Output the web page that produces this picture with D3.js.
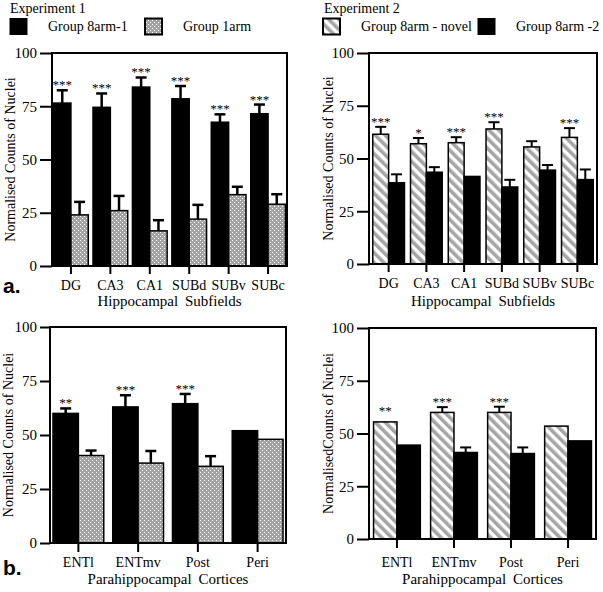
<!DOCTYPE html>
<html><head><meta charset="utf-8">
<script src="https://cdn.jsdelivr.net/npm/d3@7"></script>
<style>body{margin:0;background:#fff}svg{display:block}</style>
</head><body>
<script>
// ---------- data ----------
const hippoCats = ["DG","CA3","CA1","SUBd","SUBv","SUBc"];
const paraCats = ["ENTl","ENTmv","Post","Peri"];
const yTicks = [0,25,50,75,100];

// Experiment 1 - hippocampal subfields
const e1HipArm8 = [76.5,74.5,84,78.5,67.5,71.5];
const e1HipArm8Err = [6,6.5,4.5,6,3.7,4.3];
const e1HipArm1 = [24,26,16.5,22,33.5,29];
const e1HipArm1Err = [6.1,6.9,5,6.7,3.7,4.7];
const e1HipStars = ["***","***","***","***","***","***"];

// Experiment 2 - hippocampal subfields
const e2HipNovel = [61.5,57,57.5,64,55.5,60];
const e2HipNovelErr = [3.5,2.7,2.6,3.2,2.7,4.4];
const e2HipArm8 = [38.5,43.5,41.5,36.5,44.5,40];
const e2HipArm8Err = [4,2.4,0,3.4,2.4,4.8];
const e2HipStars = ["***","*","***","***","","***"];

// Experiment 1 - parahippocampal cortices
const e1ParArm8 = [60,63,64.5,52];
const e1ParArm8Err = [2.3,5.4,4.5,0];
const e1ParArm1 = [40.5,37,35.5,48];
const e1ParArm1Err = [2.3,5.6,4.7,0];
const e1ParStars = ["**","***","***",""];

// Experiment 2 - parahippocampal cortices
const e2ParNovel = [55.5,60,60,53.5];
const e2ParNovelErr = [0,2.5,2.7,0];
const e2ParArm8 = [44.5,41,40.5,46.5];
const e2ParArm8Err = [0,2.4,2.9,0];
const e2ParStars = ["**","***","***",""];

// ---------- svg ----------
const SERIF="Liberation Serif", SANS="Liberation Sans";
const W=603,H=592;
const svg=d3.select("body").append("svg").attr("width",W).attr("height",H);
svg.append("rect").attr("width",W).attr("height",H).attr("fill","#fff");
const defs=svg.append("defs");
const dots=defs.append("pattern").attr("id","dots").attr("patternUnits","userSpaceOnUse").attr("width",4).attr("height",4);
dots.append("rect").attr("width",4).attr("height",4).attr("fill","#a3a3a3");
dots.append("rect").attr("x",0).attr("y",0).attr("width",1).attr("height",1).attr("fill","#fff");
dots.append("rect").attr("x",2).attr("y",2).attr("width",1).attr("height",1).attr("fill","#fff");
const hatch=defs.append("pattern").attr("id","hatch").attr("patternUnits","userSpaceOnUse").attr("width",7).attr("height",7).attr("patternTransform","rotate(-45)");
hatch.append("rect").attr("width",7).attr("height",7).attr("fill","#fff");
hatch.append("rect").attr("width",3.6).attr("height",7).attr("fill","#a5a5a5");

const BLACK="#000", DOTS="url(#dots)", HATCH="url(#hatch)";

function txt(sel,size,fam){
  return sel.style("font-family",fam||SERIF).style("font-size",size+"px").style("fill","#000");
}

function panel(c){
  const g=svg.append("g");
  const x=d3.scaleBand().domain(c.cats).range([c.x0,c.x1]).paddingInner(c.padIn).paddingOuter(c.padOut);
  const y=d3.scaleLinear().domain([0,100]).range([c.yBot,c.yTop]);
  const bw=x.bandwidth()/2;
  const series=[{v:c.s1,e:c.e1,f:c.f1,o:0},{v:c.s2,e:c.e2,f:c.f2,o:1}];
  series.forEach(s=>{
    g.selectAll(null).data(c.cats).enter().append("rect")
      .attr("x",d=>x(d)+s.o*bw).attr("width",bw)
      .attr("y",(d,i)=>y(s.v[i])).attr("height",(d,i)=>c.yBot-y(s.v[i]))
      .attr("fill",s.f).attr("stroke","#000").attr("stroke-width",1.5);
  });
  series.forEach(s=>{
    c.cats.forEach((d,i)=>{
      if(!s.e[i]) return;
      const cx=x(d)+s.o*bw+bw/2, top=y(s.v[i]+s.e[i]);
      g.append("line").attr("x1",cx).attr("x2",cx).attr("y1",y(s.v[i])).attr("y2",top).attr("stroke","#000").attr("stroke-width",c.ew);
      g.append("line").attr("x1",cx-5.5).attr("x2",cx+5.5).attr("y1",top).attr("y2",top).attr("stroke","#000").attr("stroke-width",c.ew);
    });
  });
  // stars above first series
  c.cats.forEach((d,i)=>{
    if(!c.stars[i]) return;
    const cx=x(d)+bw/2;
    const yy=c.e1[i]? y(c.s1[i]+c.e1[i])-1 : y(c.s1[i])-7;
    txt(g.append("text").attr("x",cx).attr("y",yy).attr("text-anchor","middle"),13).text(c.stars[i]);
  });
  // frame
  g.append("rect").attr("x",c.x0).attr("y",c.yTop).attr("width",c.x1-c.x0).attr("height",c.yBot-c.yTop)
    .attr("fill","none").attr("stroke","#000").attr("stroke-width",2);
  // y axis
  const ya=g.append("g").attr("transform",`translate(${c.x0},0)`)
    .call(d3.axisLeft(y).tickValues(yTicks).tickSize(c.ytick).tickPadding(3));
  ya.select(".domain").remove();
  ya.selectAll("line").attr("stroke-width",2);
  txt(ya.selectAll("text"),15);
  // x axis
  const xa=g.append("g").attr("transform",`translate(0,${c.yBot})`)
    .call(d3.axisBottom(x).tickSize(c.xtick));
  xa.select(".domain").remove();
  xa.selectAll("line").attr("stroke-width",2);
  txt(xa.selectAll("text"),14).attr("y",c.lblOff).attr("dy",null);
  // titles
  txt(g.append("text").attr("x",(c.x0+c.x1)/2).attr("y",c.titleY).attr("text-anchor","middle"),15)
    .style("word-spacing","3px").text(c.xtitle);
  txt(g.append("text").attr("transform",`translate(${c.ylx},${(c.yTop+c.yBot)/2}) rotate(-90)`)
    .attr("text-anchor","middle"),14).text(c.ytitle);
}

panel({x0:52,x1:287,yTop:53,yBot:266,cats:hippoCats,s1:e1HipArm8,e1:e1HipArm8Err,s2:e1HipArm1,e2:e1HipArm1Err,
  f1:BLACK,f2:DOTS,stars:e1HipStars,padIn:0.12,padOut:0.04,ytick:12,xtick:8,lblOff:24,titleY:306,ylx:15,ew:2.5,
  xtitle:"Hippocampal Subfields",ytitle:"Normalised Counts of Nuclei"});
panel({x0:369,x1:597,yTop:53,yBot:264,cats:hippoCats,s1:e2HipNovel,e1:e2HipNovelErr,s2:e2HipArm8,e2:e2HipArm8Err,
  f1:HATCH,f2:BLACK,stars:e2HipStars,padIn:0.16,padOut:0.1,ytick:12,xtick:8,lblOff:24,titleY:306,ylx:333,ew:2,
  xtitle:"Hippocampal Subfields",ytitle:"Normalised Counts of Nuclei"});
panel({x0:50,x1:286,yTop:327,yBot:543,cats:paraCats,s1:e1ParArm8,e1:e1ParArm8Err,s2:e1ParArm1,e2:e1ParArm1Err,
  f1:BLACK,f2:DOTS,stars:e1ParStars,padIn:0.15,padOut:0.05,ytick:10,xtick:9,lblOff:23.5,titleY:584,ylx:13,ew:2.5,
  xtitle:"Parahippocampal Cortices",ytitle:"Normalised Counts of Nuclei"});
panel({x0:369,x1:596,yTop:328,yBot:539,cats:paraCats,s1:e2ParNovel,e1:e2ParNovelErr,s2:e2ParArm8,e2:e2ParArm8Err,
  f1:HATCH,f2:BLACK,stars:e2ParStars,padIn:0.18,padOut:0.08,ytick:12,xtick:9,lblOff:27.5,titleY:584,ylx:333,ew:2,
  xtitle:"Parahippocampal Cortices",ytitle:"NormalisedCounts of Nuclei"});

// panel letters
txt(svg.append("text").attr("x",3).attr("y",293),21,SANS).style("font-weight","bold").text("a.");
txt(svg.append("text").attr("x",3).attr("y",575),21,SANS).style("font-weight","bold").text("b.");

// legends
const legendExp = ["Experiment 1","Experiment 2"];
const legendLabels = [["Group 8arm-1","Group 1arm"],["Group 8arm - novel","Group 8arm -2"]];
const legendFills = [[BLACK,DOTS],[HATCH,BLACK]];
const legendX = [[10,145],[323,478]];
const legendTitleX = [10,324];
legendExp.forEach((t,k)=>{
  txt(svg.append("text").attr("x",legendTitleX[k]).attr("y",13),14).text(t);
  legendLabels[k].forEach((lab,j)=>{
    const lx=legendX[k][j];
    svg.append("rect").attr("x",lx).attr("y",18.5).attr("width",17).attr("height",16)
      .attr("fill",legendFills[k][j]).attr("stroke","#000").attr("stroke-width",legendFills[k][j]===BLACK?1:2);
    txt(svg.append("text").attr("x",lx+38).attr("y",31),14).text(lab);
  });
});
</script>
</body></html>
